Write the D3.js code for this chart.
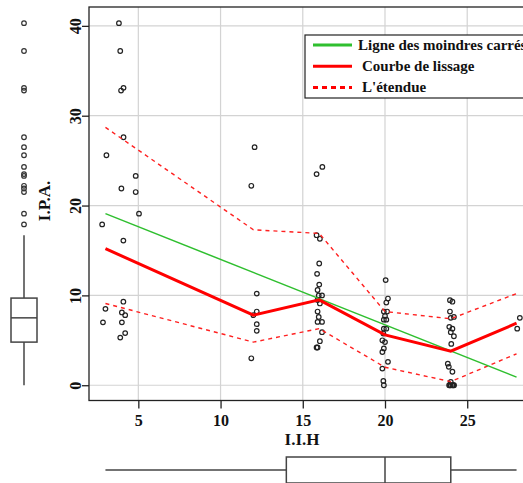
<!DOCTYPE html>
<html>
<head>
<meta charset="utf-8">
<script src="https://cdn.jsdelivr.net/npm/d3@7"></script>
<style>
  body { margin: 0; background: #fff; }
  text { font-family: "Liberation Serif", "Times New Roman", serif; font-weight: bold; }
</style>
</head>
<body>
<svg id="chart"></svg>
<script>
// scatter points: I.I.H (x) and I.P.A. (y)
const iih = [3.82, 3.9, 4.1, 3.95, 4.1, 3.06, 4.84, 3.97, 4.84, 5.04, 2.8, 4.09, 4.09, 3.0, 4.0, 4.2, 2.85, 4.0, 4.2, 3.9,
  12.07, 11.87, 12.2, 12.2, 12.0, 12.2, 12.2, 11.87,
  15.84, 16.19, 15.84, 16.04, 16.0, 15.87, 16.0, 15.9, 15.97, 16.17, 15.9, 16.04, 15.9, 15.97, 15.9, 16.17, 16.17, 16.04, 15.84, 15.9,
  20.04, 20.18, 20.08, 19.93, 20.13, 20.0, 19.93, 20.08, 19.93, 20.08, 19.9, 19.84, 20.0, 19.93, 19.84, 20.18, 19.84, 19.9, 19.93,
  23.95, 24.1, 23.95, 24.19, 24.0, 23.91, 24.1, 24.0, 24.19, 24.03, 23.82, 23.88, 24.1, 24.0, 23.9, 24.0, 24.1, 24.2, 23.95, 24.15,
  28.2, 28.04];
const ipa = [40.3, 37.2, 33.1, 32.8, 27.6, 25.6, 23.3, 21.9, 21.5, 19.1, 17.9, 16.1, 9.3, 8.5, 8.1, 7.8, 7.0, 7.0, 5.8, 5.3,
  26.5, 22.2, 10.2, 8.2, 7.8, 6.8, 6.05, 3.0,
  23.5, 24.3, 16.7, 16.3, 13.55, 12.4, 11.2, 10.6, 10.0, 10.0, 9.5, 9.1, 8.2, 7.6, 7.05, 7.05, 5.9, 4.9, 4.2, 4.2,
  11.7, 9.65, 9.2, 8.2, 8.2, 7.7, 7.3, 7.3, 6.3, 6.3, 5.75, 5.0, 4.8, 4.1, 3.7, 2.6, 1.85, 0.48, 0,
  9.47, 9.3, 8.2, 7.6, 7.5, 6.5, 6.3, 5.9, 5.45, 4.6, 2.4, 2.05, 1.5, 0.37, 0, 0, 0, 0, 0, 0,
  7.5, 6.3];

// least squares line
const lsX = [3, 28];
const lsY = [19.1, 0.9];

// smoothing curve and its range
const smoothX = [3, 12, 16, 20, 24, 28];
const smoothY = [15.2, 7.8, 9.5, 5.6, 3.8, 6.9];
const upperY = [28.7, 17.3, 16.9, 8.2, 7.4, 10.2];
const lowerY = [9.1, 4.8, 6.3, 2.0, 0.4, 3.5];

// marginal box plots: [min, q1, median, q3, max]
const ipaBox = [0, 4.8, 7.5, 9.7, 16.7];
const iihBox = [3, 14, 20, 24, 28];

const xTicks = [5, 10, 15, 20, 25];
const yTicks = [0, 10, 20, 30, 40];

const legendLabels = ["Ligne des moindres carrés", "Courbe de lissage", "L'étendue"];

const width = 523, height = 483;
const svg = d3.select("#chart").attr("width", width).attr("height", height);

const x = d3.scaleLinear().domain([2, 29]).range([89, 533]);
const y = d3.scaleLinear().domain([-1.7, 42.1]).range([400.5, 7]);

// grid
svg.append("g").selectAll("line").data(xTicks).enter().append("line")
  .attr("x1", d => x(d)).attr("x2", d => x(d))
  .attr("y1", y.range()[1]).attr("y2", y.range()[0])
  .attr("stroke", "#d3d3d3").attr("stroke-width", 1.2);
svg.append("g").selectAll("line").data(yTicks).enter().append("line")
  .attr("x1", x.range()[0]).attr("x2", x.range()[1])
  .attr("y1", d => y(d)).attr("y2", d => y(d))
  .attr("stroke", "#d3d3d3").attr("stroke-width", 1.2);

// axes
const xAxis = svg.append("g")
  .attr("transform", `translate(0, ${y.range()[0]})`)
  .call(d3.axisBottom(x).tickValues(xTicks).tickSize(8).tickPadding(6));
const yAxis = svg.append("g")
  .attr("transform", `translate(${x.range()[0]}, 0)`)
  .call(d3.axisLeft(y).tickValues(yTicks).tickSize(7));
[xAxis, yAxis].forEach(a => {
  a.select(".domain").remove();
  a.selectAll("line").attr("stroke", "#222").attr("stroke-width", 1.3);
  a.selectAll("text").attr("font-size", 16).attr("fill", "#111")
    .style("font-family", "'Liberation Serif', serif").style("font-weight", "bold");
});
yAxis.selectAll(".tick text")
  .attr("x", null).attr("dy", "0.35em")
  .attr("text-anchor", "middle")
  .attr("transform", "translate(-14,0) rotate(-90)");

// frame
svg.append("rect")
  .attr("x", x.range()[0]).attr("y", y.range()[1])
  .attr("width", x.range()[1] - x.range()[0]).attr("height", y.range()[0] - y.range()[1])
  .attr("fill", "none").attr("stroke", "#222").attr("stroke-width", 1.3);

// axis titles
svg.append("text").attr("x", 302).attr("y", 445).attr("text-anchor", "middle")
  .attr("font-size", 17).attr("fill", "#111").text("I.I.H");
svg.append("text").attr("transform", "translate(50,201) rotate(-90)")
  .attr("text-anchor", "middle").attr("font-size", 17).attr("fill", "#111").text("I.P.A.");

// points
svg.append("g").selectAll("circle").data(iih).enter().append("circle")
  .attr("cx", d => x(d)).attr("cy", (d, i) => y(ipa[i])).attr("r", 2.3)
  .attr("fill", "none").attr("stroke", "#222").attr("stroke-width", 1.2);

// lines
const line = d3.line().x(d => x(d[0])).y(d => y(d[1]));
const dashed = [upperY, lowerY];
dashed.forEach(arr => {
  svg.append("path").datum(smoothX.map((v, i) => [v, arr[i]])).attr("d", line)
    .attr("fill", "none").attr("stroke", "#ff2020").attr("stroke-width", 1.4)
    .attr("stroke-dasharray", "4,4");
});
svg.append("path").datum(lsX.map((v, i) => [v, lsY[i]])).attr("d", line)
  .attr("fill", "none").attr("stroke", "#2fbf2f").attr("stroke-width", 1.5);
svg.append("path").datum(smoothX.map((v, i) => [v, smoothY[i]])).attr("d", line)
  .attr("fill", "none").attr("stroke", "#ff0000").attr("stroke-width", 3);

// legend
const lg = svg.append("g");
lg.append("rect").attr("x", 305).attr("y", 35).attr("width", 240).attr("height", 63)
  .attr("fill", "#fff").attr("stroke", "#222").attr("stroke-width", 1.2);
const legendStyles = [
  { color: "#2fbf2f", w: 3, dash: null, tx: 358 },
  { color: "#ff0000", w: 3, dash: null, tx: 362 },
  { color: "#ff0000", w: 3, dash: "5,4", tx: 362 }
];
legendLabels.forEach((lab, i) => {
  const ly = 45 + i * 21.2;
  const s = legendStyles[i];
  lg.append("line").attr("x1", 313).attr("x2", 352).attr("y1", ly).attr("y2", ly)
    .attr("stroke", s.color).attr("stroke-width", s.w).attr("stroke-dasharray", s.dash);
  lg.append("text").attr("x", s.tx).attr("y", ly + 5).attr("font-size", 15)
    .attr("fill", "#111").text(lab);
});

// left box plot (I.P.A.)
const bx = 24, bw = 13;
const lb = svg.append("g").attr("stroke", "#444").attr("stroke-width", 1.5).attr("fill", "none");
lb.append("line").attr("x1", bx).attr("x2", bx).attr("y1", y(ipaBox[0])).attr("y2", y(ipaBox[1]));
lb.append("line").attr("x1", bx).attr("x2", bx).attr("y1", y(ipaBox[3])).attr("y2", y(ipaBox[4]));
lb.append("rect").attr("x", bx - bw).attr("y", y(ipaBox[3]))
  .attr("width", 2 * bw).attr("height", y(ipaBox[1]) - y(ipaBox[3]));
lb.append("line").attr("x1", bx - bw).attr("x2", bx + bw).attr("y1", y(ipaBox[2])).attr("y2", y(ipaBox[2]));
svg.append("g").selectAll("circle").data(ipa.filter(v => v > ipaBox[4])).enter().append("circle")
  .attr("cx", bx).attr("cy", d => y(d)).attr("r", 2.3)
  .attr("fill", "none").attr("stroke", "#333").attr("stroke-width", 1.2);

// bottom box plot (I.I.H)
const by = 470;
const bb = svg.append("g").attr("stroke", "#444").attr("stroke-width", 1.5).attr("fill", "none");
bb.append("line").attr("y1", by).attr("y2", by).attr("x1", x(iihBox[0])).attr("x2", x(iihBox[1]));
bb.append("line").attr("y1", by).attr("y2", by).attr("x1", x(iihBox[3])).attr("x2", x(iihBox[4]));
bb.append("rect").attr("y", by - bw).attr("x", x(iihBox[1]))
  .attr("height", 2 * bw).attr("width", x(iihBox[3]) - x(iihBox[1]));
bb.append("line").attr("y1", by - bw).attr("y2", by + bw).attr("x1", x(iihBox[2])).attr("x2", x(iihBox[2]));
</script>
</body>
</html>
